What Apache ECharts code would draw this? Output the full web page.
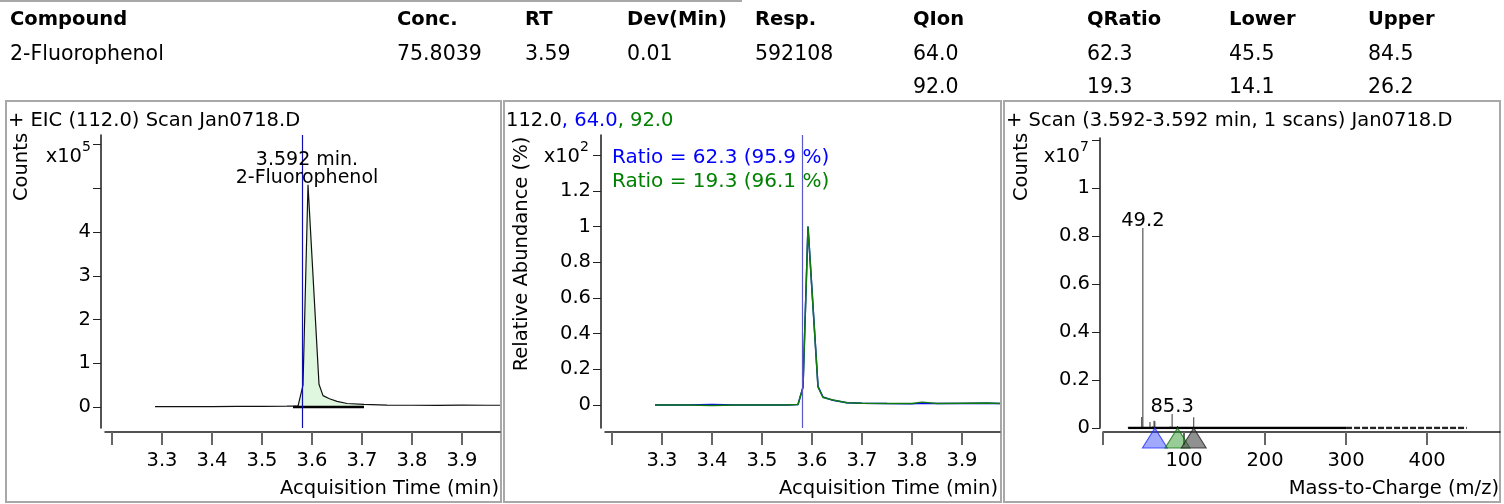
<!DOCTYPE html>
<html><head><meta charset="utf-8">
<script src="https://cdn.jsdelivr.net/npm/echarts@6/dist/echarts.min.js"></script>
<style>html,body{margin:0;padding:0;background:#fff}#c{width:1504px;height:504px}</style>
</head><body><div id="c"></div>
<script>
// ---------- table ----------
const headerCols = ['Compound', 'Conc.', 'RT', 'Dev(Min)', 'Resp.', 'QIon', 'QRatio', 'Lower', 'Upper'];
const row1 = ['2-Fluorophenol', '75.8039', '3.59', '0.01', '592108', '64.0', '62.3', '45.5', '84.5'];
const row2 = ['', '', '', '', '', '92.0', '19.3', '14.1', '26.2'];

// ---------- panel 1 : EIC 112 ----------
const eicTime   = [3.286, 3.35, 3.40, 3.45, 3.50, 3.55, 3.572, 3.582, 3.592, 3.614, 3.622, 3.635, 3.65, 3.67, 3.704, 3.75, 3.80, 3.85, 3.90, 3.95, 3.976];
const eicCounts = [700, 900, 1100, 1300, 1500, 1800, 2000, 50000, 508000, 52000, 26000, 19000, 13000, 8000, 6000, 4500, 4000, 3800, 4200, 4000, 4000];
const integStart = 3.572, integEnd = 3.704;
const baselineTime = [3.562, 3.704];
const baselineCounts = [0, 0];
const expectedRT = 3.583;
const eicYTicks = [0, 100000, 200000, 300000, 400000, 500000, 600000];
const eicYLabels = [0, 100000, 200000, 300000, 400000];
const timeTicks = [3.2, 3.3, 3.4, 3.5, 3.6, 3.7, 3.8, 3.9];
const timeLabels = [3.3, 3.4, 3.5, 3.6, 3.7, 3.8, 3.9];

// ---------- panel 2 : qualifier overlay (relative abundance %) ----------
const ratioTime = [3.286, 3.35, 3.40, 3.45, 3.50, 3.55, 3.572, 3.582, 3.592, 3.612, 3.622, 3.642, 3.67, 3.70, 3.75, 3.80, 3.82, 3.85, 3.90, 3.95, 3.976];
const q64 = [0, 0, 0.2, 0, 0, 0, 0.3, 10, 100, 10.5, 4.5, 2.6, 1.2, 1.0, 0.8, 0.7, 0.9, 0.8, 0.9, 1.0, 0.9];
const q92 = [0, 0, -0.3, 0, 0, 0, 0.3, 10, 100, 10, 4.2, 2.8, 1.3, 1.0, 0.8, 0.8, 1.6, 0.8, 1.0, 1.1, 0.8];
const relYTicks = [0, 20, 40, 60, 80, 100, 120, 140];
const relYLabels = [0, 20, 40, 60, 80, 100, 120];
const ratioTexts = ['Ratio = 62.3 (95.9 %)', 'Ratio = 19.3 (96.1 %)'];

// ---------- panel 3 : mass spectrum ----------
const specMz  = [31, 35, 38, 40, 44, 47.8, 49.2, 51, 55, 58, 61, 63, 64, 66, 75, 83, 85.3, 92, 100, 112, 113];
const specInt = [20000, 30000, 20000, 40000, 30000, 460000, 8330000, 40000, 30000, 250000, 60000, 300000, 280000, 40000, 30000, 60000, 580000, 87000, 40000, 450000, 40000];
const labeledPeaks = [49.2, 85.3];
const noiseSolid = [31, 300];
const noiseDashed = [300, 449];
const qualIons = [64, 92, 112];
const mzTicks = [0, 100, 200, 300, 400];
const mzLabels = [100, 200, 300, 400];
const specYTicks = [0, 2e6, 4e6, 6e6, 8e6, 1e7, 1.2e7];
const specYLabels = [0, 2e6, 4e6, 6e6, 8e6, 1e7];

// ---------- drawing ----------
const FONT = 'DejaVu Sans';
const chart = echarts.init(document.getElementById('c'), null, {renderer: 'canvas', width: 1504, height: 504});

function txt(x, y, text, o) {
  o = o || {};
  return {type: 'text', x: x, y: y, rotation: o.rotation || 0, silent: true, z: 10,
    style: {text: text, fill: o.color || '#000', fontSize: o.size || 19.5, fontFamily: FONT,
      fontWeight: o.weight || 'normal', align: o.align || 'left', verticalAlign: o.va || 'middle', rich: o.rich}};
}
function frame(x1, y1, x2, y2) {
  return {type: 'rect', shape: {x: x1, y: y1, width: x2 - x1, height: y2 - y1}, silent: true,
    style: {fill: 'none', stroke: '#a8a8a8', lineWidth: 2}};
}

const graphics = [];
graphics.push({type: 'line', shape: {x1: 0, y1: 1, x2: 742, y2: 1}, style: {stroke: '#a8a8a8', lineWidth: 2}, silent: true});
const colX = [10, 397, 525, 627, 755, 913, 1087, 1229, 1368];
headerCols.forEach((h, i) => graphics.push(txt(colX[i], 20, h, {weight: 'bold', size: 19.5})));
row1.forEach((h, i) => graphics.push(txt(colX[i], 55, h, {size: 20.5})));
row2.forEach((h, i) => { if (h) graphics.push(txt(colX[i], 88, h, {size: 20.5})); });

graphics.push(frame(6, 101, 501, 502), frame(504, 101, 1001, 502), frame(1004, 101, 1500, 502));
graphics.push(txt(8, 121, '+ EIC (112.0) Scan Jan0718.D'));
const rs = c => ({fill: c, fontSize: 19.5, fontFamily: FONT});
graphics.push(txt(506, 121, '{k|112.0}{b|, 64.0}{g|, 92.0}', {rich: {k: rs('#000'), b: rs('#0000ff'), g: rs('#008000')}}));
graphics.push(txt(1006, 121, '+ Scan (3.592-3.592 min, 1 scans) Jan0718.D'));

graphics.push(txt(22, 167, 'Counts', {rotation: Math.PI / 2, align: 'center'}));
graphics.push(txt(522, 254, 'Relative Abundance (%)', {rotation: Math.PI / 2, align: 'center'}));
graphics.push(txt(1022, 167, 'Counts', {rotation: Math.PI / 2, align: 'center'}));

[[82, '5'], [580, '2'], [1080, '7']].forEach(p => {
  graphics.push(txt(p[0], 157, 'x10', {align: 'right'}));
  graphics.push(txt(p[0], 147, p[1], {size: 14}));
});

graphics.push(txt(307, 160, '3.592 min.', {align: 'center', size: 19}));
graphics.push(txt(307, 178, '2-Fluorophenol', {align: 'center', size: 19}));
graphics.push(txt(612, 158, ratioTexts[0], {color: '#0000ff', size: 20}));
graphics.push(txt(612, 182, ratioTexts[1], {color: '#008000', size: 20}));

graphics.push(txt(499, 489, 'Acquisition Time (min)', {align: 'right'}));
graphics.push(txt(998, 489, 'Acquisition Time (min)', {align: 'right'}));
graphics.push(txt(1499, 489, 'Mass-to-Charge (m/z)', {align: 'right'}));

function xAx(gi, min, max, ticks, labels, fmt) {
  return {type: 'value', gridIndex: gi, min: min, max: max, offset: 4,
    axisLine: {show: true, onZero: false, lineStyle: {color: '#1a1a1a', width: 1.5}},
    axisTick: {show: true, length: 13, customValues: ticks, lineStyle: {color: '#666', width: 2}},
    axisLabel: {customValues: labels, margin: 19, fontSize: 19.5, color: '#000', fontFamily: FONT, formatter: fmt},
    splitLine: {show: false}};
}
function yAx(gi, min, max, off, ticks, labels, fmt) {
  return {type: 'value', gridIndex: gi, min: min, max: max, offset: off,
    axisLine: {show: true, onZero: false, lineStyle: {color: '#1a1a1a', width: 1.5}},
    axisTick: {show: true, length: 8, customValues: ticks, lineStyle: {color: '#222', width: 1}},
    axisLabel: {customValues: labels, margin: 10, fontSize: 19.5, color: '#000', fontFamily: FONT, formatter: fmt},
    splitLine: {show: false}};
}
const tfmt = v => v.toFixed(1);

const eicPts = eicTime.map((t, i) => [t, eicCounts[i]]);
const integPts = eicPts.filter(p => p[0] >= integStart && p[0] <= integEnd);

const series = [
  {type: 'line', xAxisIndex: 0, yAxisIndex: 0, data: integPts, symbol: 'none', silent: true,
    lineStyle: {width: 0}, areaStyle: {color: '#def7de', opacity: 1}, z: 1},
  {type: 'line', xAxisIndex: 0, yAxisIndex: 0, data: eicPts, symbol: 'none', silent: true,
    lineStyle: {color: '#111', width: 1.2},
    markLine: {silent: true, symbol: 'none', label: {show: false}, lineStyle: {color: '#1010b0', width: 1.2, type: 'solid'},
      data: [{xAxis: expectedRT}]}},
  {type: 'line', xAxisIndex: 0, yAxisIndex: 0, data: baselineTime.map((t, i) => [t, baselineCounts[i]]),
    symbol: 'none', silent: true, lineStyle: {color: '#000', width: 2.5}, z: 3},

  {type: 'line', xAxisIndex: 1, yAxisIndex: 1, data: ratioTime.map((t, i) => [t, q64[i]]), symbol: 'none', silent: true,
    lineStyle: {color: '#0000ff', width: 1.5},
    markLine: {silent: true, symbol: 'none', label: {show: false}, lineStyle: {color: '#5858c8', width: 1.2, type: 'solid'},
      data: [{xAxis: expectedRT}]}},
  {type: 'line', xAxisIndex: 1, yAxisIndex: 1, data: ratioTime.map((t, i) => [t, q92[i]]), symbol: 'none', silent: true,
    lineStyle: {color: '#107a10', width: 1.5}},

  {type: 'line', xAxisIndex: 2, yAxisIndex: 2, data: noiseSolid.map(m => [m, 0]), symbol: 'none', silent: true,
    lineStyle: {color: '#000', width: 2.5}},
  {type: 'line', xAxisIndex: 2, yAxisIndex: 2, data: noiseDashed.map(m => [m, 0]), symbol: 'none', silent: true,
    lineStyle: {color: '#222', width: 2.5, type: [6, 2]}},
  {type: 'bar', xAxisIndex: 2, yAxisIndex: 2, barWidth: 1, silent: true,
    itemStyle: {color: '#333'},
    data: specMz.map((m, i) => labeledPeaks.indexOf(m) >= 0
      ? {value: [m, specInt[i]], label: {show: true, position: 'top', distance: -3, formatter: String(m), fontSize: 19.5, color: '#000', fontFamily: FONT}}
      : {value: [m, specInt[i]]})},
  {type: 'scatter', xAxisIndex: 2, yAxisIndex: 2, clip: false, silent: true, symbol: 'triangle',
    symbolSize: [25, 20], symbolOffset: [0, '50%'], z: 5,
    data: [
      {value: [qualIons[0], 0], itemStyle: {color: 'rgba(40,60,255,0.55)', borderColor: '#2030ff', borderWidth: 1}},
      {value: [qualIons[1], 0], itemStyle: {color: 'rgba(40,150,40,0.6)', borderColor: '#107010', borderWidth: 1}},
      {value: [qualIons[2], 0], itemStyle: {color: 'rgba(70,70,70,0.75)', borderColor: '#222', borderWidth: 1}}
    ]}
];

chart.setOption({
  animation: false,
  backgroundColor: '#fff',
  textStyle: {fontFamily: FONT},
  grid: [
    {left: 105, right: 1504 - 500, top: 135, bottom: 504 - 428},
    {left: 605, right: 1504 - 1000, top: 135, bottom: 504 - 428},
    {left: 1103, right: 1504 - 1500, top: 138, bottom: 504 - 428}
  ],
  xAxis: [
    xAx(0, 3.186, 3.976, timeTicks, timeLabels, tfmt),
    xAx(1, 3.186, 3.976, timeTicks, timeLabels, tfmt),
    xAx(2, 0, 490, mzTicks, mzLabels, v => String(v))
  ],
  yAxis: [
    yAx(0, -48000, 622000, 4, eicYTicks, eicYLabels, v => String(v / 1e5)),
    yAx(1, -12.9, 151.3, 4, relYTicks, relYLabels, v => String(v / 100)),
    yAx(2, 0, 12080000, 3, specYTicks, specYLabels, v => String(parseFloat((v / 1e7).toFixed(1))))
  ],
  graphic: graphics,
  series: series
});
</script></body></html>
